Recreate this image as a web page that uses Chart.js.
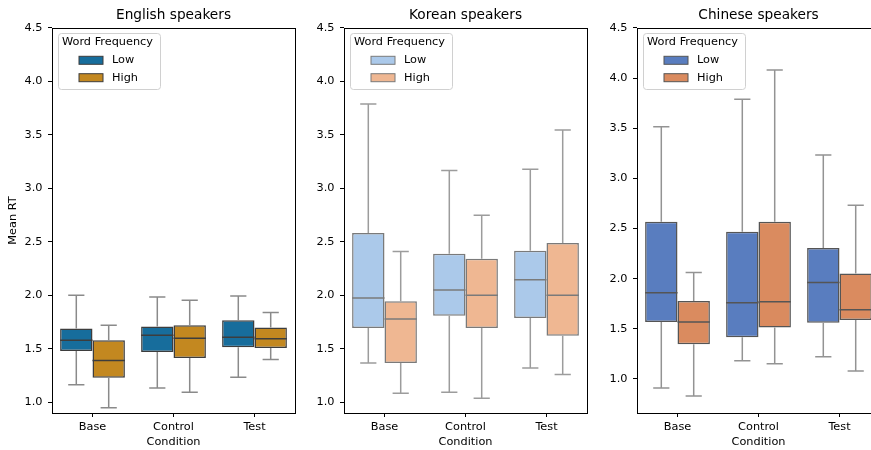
<!DOCTYPE html>
<html>
<head>
<meta charset="utf-8">
<script src="https://cdn.jsdelivr.net/npm/chart.js@4.4.1/dist/chart.umd.min.js"></script>
<style>
  html, body { margin: 0; padding: 0; background: #fff; overflow: hidden; width: 871px; height: 450px; }
  canvas { position: absolute; top: 0; }
</style>
</head>
<body>
<canvas id="english" width="300" height="450" style="left:0px"></canvas>
<canvas id="korean" width="300" height="450" style="left:292px"></canvas>
<canvas id="chinese" width="300" height="450" style="left:585px"></canvas>
<script>
// --- Datos ---
const conditions = ["Base", "Control", "Test"];
const freqLabels = ["Low", "High"];
const yTicks = [1.0, 1.5, 2.0, 2.5, 3.0, 3.5, 4.0, 4.5];

// cada fila: [min, q1, mediana, q3, max] por condición
const englishLow  = [[1.165, 1.48, 1.58, 1.69, 2.00], [1.134, 1.47, 1.627, 1.71, 1.985], [1.234, 1.515, 1.608, 1.767, 1.994]];
const englishHigh = [[0.95, 1.23, 1.39, 1.58, 1.72], [1.094, 1.414, 1.60, 1.72, 1.955], [1.40, 1.508, 1.595, 1.70, 1.84]];
const koreanLow   = [[1.368, 1.695, 1.976, 2.584, 3.79], [1.094, 1.81, 2.05, 2.39, 3.167], [1.32, 1.789, 2.147, 2.418, 3.18]];
const koreanHigh  = [[1.084, 1.368, 1.78, 1.945, 2.41], [1.037, 1.695, 2.0, 2.343, 2.75], [1.26, 1.623, 2.0, 2.49, 3.547]];
const chineseLow  = [[0.91, 1.568, 1.86, 2.567, 3.516], [1.18, 1.415, 1.76, 2.467, 3.79], [1.222, 1.56, 1.962, 2.305, 3.234]];
const chineseHigh = [[0.83, 1.345, 1.568, 1.777, 2.062], [1.152, 1.514, 1.77, 2.567, 4.08], [1.08, 1.588, 1.69, 2.052, 2.733]];

const FONT = "DejaVu Sans";

// --- Bigotes y medianas ---
const boxExtras = {
  id: "boxExtras",
  afterDatasetsDraw(chart) {
    const ctx = chart.ctx;
    const y = chart.scales.y;
    chart.data.datasets.forEach((ds, i) => {
      const meta = chart.getDatasetMeta(i);
      meta.data.forEach((bar, j) => {
        const [mn, q1, med, q3, mx] = ds.stats[j];
        const x = bar.x;
        const half = bar.width / 2;
        const cap = half / 2;
        ctx.save();
        ctx.lineWidth = 1.5;
        ctx.strokeStyle = ds.whiskerColor;
        ctx.beginPath();
        ctx.moveTo(x, y.getPixelForValue(q3));
        ctx.lineTo(x, y.getPixelForValue(mx));
        ctx.moveTo(x, y.getPixelForValue(q1));
        ctx.lineTo(x, y.getPixelForValue(mn));
        ctx.moveTo(x - cap, y.getPixelForValue(mx));
        ctx.lineTo(x + cap, y.getPixelForValue(mx));
        ctx.moveTo(x - cap, y.getPixelForValue(mn));
        ctx.lineTo(x + cap, y.getPixelForValue(mn));
        ctx.stroke();
        ctx.strokeStyle = ds.borderColor;
        ctx.beginPath();
        ctx.moveTo(x - half, y.getPixelForValue(med));
        ctx.lineTo(x + half, y.getPixelForValue(med));
        ctx.stroke();
        ctx.restore();
      });
    });
  }
};

// --- Marco de los ejes y leyenda ---
const frameLegend = {
  id: "frameLegend",
  afterDraw(chart) {
    const ctx = chart.ctx;
    const a = chart.chartArea;
    ctx.save();
    ctx.strokeStyle = "#000";
    ctx.lineWidth = 1;
    ctx.strokeRect(Math.round(a.left) + 0.5, Math.round(a.top) + 0.5, Math.round(a.right - a.left), Math.round(a.bottom - a.top));

    // leyenda
    const lx = a.left + 6, ly = a.top + 5;
    ctx.beginPath();
    ctx.roundRect(lx + 0.5, ly + 0.5, 102, 56, 3);
    ctx.fillStyle = "rgba(255,255,255,0.8)";
    ctx.fill();
    ctx.strokeStyle = "#d0d0d0";
    ctx.stroke();

    ctx.font = "11.3px '" + FONT + "'";
    ctx.fillStyle = "#000";
    ctx.textBaseline = "middle";
    ctx.textAlign = "left";
    ctx.fillText("Word Frequency", a.left + 10, a.top + 14.5);
    chart.data.datasets.forEach((ds, i) => {
      const cy = a.top + 32.3 + i * 17.4;
      ctx.fillStyle = ds.backgroundColor;
      ctx.fillRect(a.left + 27, cy - 4, 24, 8);
      ctx.strokeStyle = ds.borderColor;
      ctx.lineWidth = 1;
      ctx.strokeRect(a.left + 27, cy - 4, 24, 8);
      ctx.fillStyle = "#000";
      ctx.fillText(ds.label, a.left + 60, cy);
    });
    ctx.restore();
  }
};

function makePanel(id, title, low, high, colors, yMin, showYTitle) {
  const datasets = [low, high].map((stats, k) => ({
    label: freqLabels[k],
    data: stats.map(s => [s[1], s[3]]),
    stats: stats,
    backgroundColor: colors.fill[k],
    borderColor: colors.edge,
    whiskerColor: colors.whisker,
    borderWidth: 1.5,
    borderSkipped: false,
    categoryPercentage: 0.8,
    barPercentage: 1.0
  }));

  return new Chart(document.getElementById(id), {
    type: "bar",
    data: { labels: conditions, datasets: datasets },
    options: {
      responsive: false,
      animation: false,
      layout: { padding: { left: 0, right: 5, top: 0, bottom: 0 } },
      plugins: {
        legend: { display: false },
        tooltip: { enabled: false },
        title: {
          display: true,
          text: title,
          fullSize: false,
          color: "#000",
          font: { family: FONT, size: 13.7, weight: "normal" },
          padding: { top: 7, bottom: 4.56 }
        }
      },
      scales: {
        x: {
          afterFit: s => { s.height = 37; },
          grid: { display: true, offset: false, drawOnChartArea: false, drawTicks: true, tickLength: 4, color: "#000" },
          border: { display: false },
          ticks: { color: "#000", font: { family: FONT, size: 11.3 }, padding: 3 },
          title: { display: true, text: "Condition", color: "#000", font: { family: FONT, size: 11.3 }, padding: { top: 0, bottom: 1 } }
        },
        y: {
          min: yMin,
          max: 4.5,
          afterFit: s => { s.width = 52; },
          afterBuildTicks: s => { s.ticks = yTicks.map(v => ({ value: v })); },
          grid: { display: true, drawOnChartArea: false, drawTicks: true, tickLength: 4, color: "#000" },
          border: { display: false },
          ticks: { color: "#000", font: { family: FONT, size: 11.3 }, padding: 5.5, callback: v => v.toFixed(1) },
          title: { display: showYTitle, text: "Mean RT", color: "#000", font: { family: FONT, size: 11.3 }, padding: { top: 6.5, bottom: 0 } }
        }
      }
    },
    plugins: [boxExtras, frameLegend]
  });
}

makePanel("english", "English speakers", englishLow, englishHigh,
  { fill: ["#176d9c", "#c38820"], edge: "#3d3d3d", whisker: "#8a8a8a" }, 0.9, true);
makePanel("korean", "Korean speakers", koreanLow, koreanHigh,
  { fill: ["#abc9ea", "#efb792"], edge: "#7a7a7a", whisker: "#9c9c9c" }, 0.9, false);
makePanel("chinese", "Chinese speakers", chineseLow, chineseHigh,
  { fill: ["#597dbf", "#da8b5f"], edge: "#555555", whisker: "#939393" }, 0.66, false);
</script>
</body>
</html>
